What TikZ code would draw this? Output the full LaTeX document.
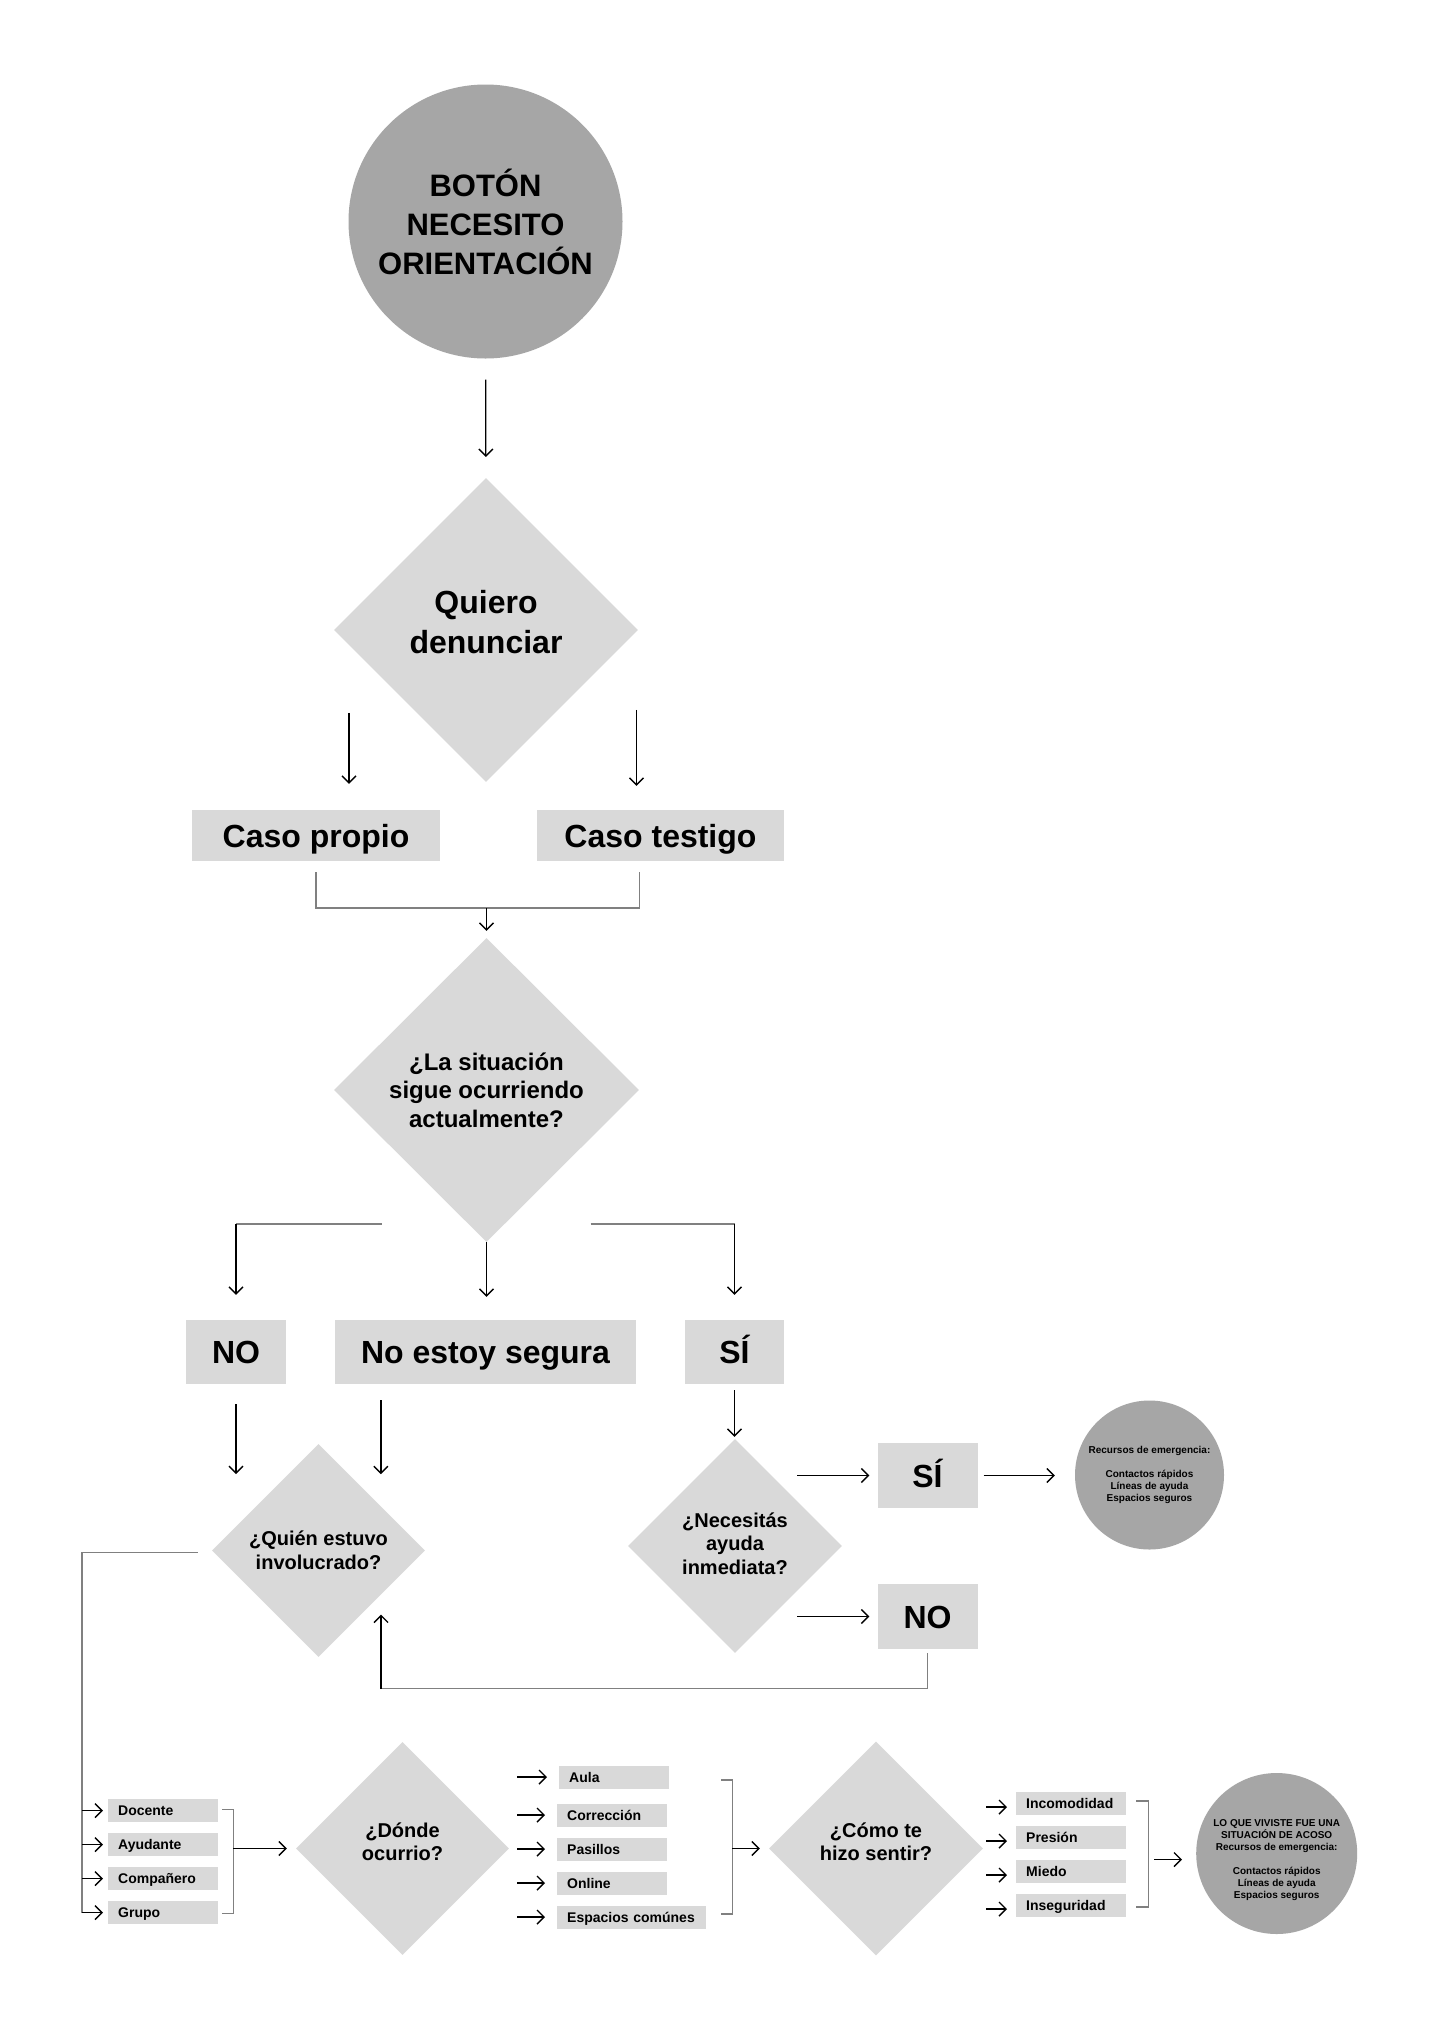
\documentclass[tikz,border=0pt]{standalone}
\usepackage{fontspec}
\setmainfont{Liberation Sans}
\usetikzlibrary{shapes.geometric,arrows.meta,calc}

\definecolor{grisoscuro}{HTML}{A6A6A6}
\definecolor{grisclaro}{HTML}{D9D9D9}
\definecolor{grislinea}{HTML}{808080}

\tikzset{
  flecha/.style={black,line width=1.4pt,-{Straight Barb[length=7pt,width=14pt]}},
  linea/.style={grislinea,line width=1.8pt},
  circulo/.style={circle,fill=grisoscuro,inner sep=0pt,align=center},
  rombo/.style={diamond,aspect=1,fill=grisclaro,inner sep=0pt,align=center},
  caja/.style={rectangle,fill=grisclaro,inner sep=0pt,text height=23pt,text depth=0pt,
    font=\fontsize{32}{40}\selectfont\bfseries},
  cajita/.style={rectangle,fill=grisclaro,anchor=west,inner xsep=10pt,inner ysep=0pt,
    minimum height=23pt,text width=90pt,align=left,text height=10pt,text depth=0pt,
    font=\fontsize{14}{16}\selectfont\bfseries},
}
% strut para subir el texto dentro de un rombo
\newcommand{\subir}[1]{\rule[-#1]{0pt}{#1}}

\begin{document}
\begin{tikzpicture}[x=1pt,y=-1pt]
\fill[white] (0,0) rectangle (1436,2027);
\useasboundingbox (0,0) rectangle (1436,2027);

% inicio
\node[circulo,minimum size=274pt,font=\fontsize{31}{39}\selectfont\bfseries] (inicio) at (485.5,221.5) {BOTÓN\\NECESITO\\ORIENTACIÓN};
\node[rombo,minimum width=304pt,minimum height=304pt,font=\fontsize{32}{40}\selectfont\bfseries] (denuncia) at (486,630) {Quiero\\denunciar\subir{16pt}};
\node[caja,minimum width=248pt,minimum height=51pt] (propio) at (316,835.5) {Caso propio};
\node[caja,minimum width=247pt,minimum height=51pt] (testigo) at (660.5,835.5) {Caso testigo};
\node[rombo,minimum width=305pt,minimum height=304pt,font=\fontsize{24}{28.5}\selectfont\bfseries] (situacion) at (486.5,1090) {¿La situación\\sigue ocurriendo\\actualmente?};

% respuestas
\node[caja,minimum width=100pt,minimum height=64pt] (no1) at (236,1352) {NO};
\node[caja,minimum width=301pt,minimum height=64pt] (nosegura) at (485.5,1352) {No estoy segura};
\node[caja,minimum width=99pt,minimum height=64pt] (si1) at (734.5,1352) {SÍ};

\node[rombo,minimum width=213pt,minimum height=213pt,font=\fontsize{20}{24}\selectfont\bfseries] (quien) at (318.5,1550.5) {¿Quién estuvo\\involucrado?};
\node[rombo,minimum width=214pt,minimum height=214pt,font=\fontsize{20}{23.5}\selectfont\bfseries] (ayuda) at (735,1546) {¿Necesitás\\ayuda\\inmediata?\subir{5pt}};
\node[caja,minimum width=100pt,minimum height=65pt] (si2) at (927.5,1475.5) {SÍ};
\node[caja,minimum width=100pt,minimum height=65pt] (no2) at (927.5,1616.5) {NO};
\node[circulo,minimum size=149pt,font=\fontsize{10}{12}\selectfont\bfseries] (emergencia) at (1149.5,1475) {Recursos de emergencia:\\[12pt]Contactos rápidos\\Líneas de ayuda\\Espacios seguros};

% fila de abajo
\node[cajita] (docente) at (108,1810.5) {Docente};
\node[cajita] (ayudante) at (108,1844.5) {Ayudante};
\node[cajita] (companero) at (108,1878.5) {Compañero};
\node[cajita] (grupo) at (108,1912.5) {Grupo};
\node[rombo,minimum width=213pt,minimum height=213pt,font=\fontsize{20}{23}\selectfont\bfseries] (donde) at (402.5,1848.5) {¿Dónde\\ocurrio?\subir{13pt}};
\node[cajita] (aula) at (559,1777) {Aula};
\node[cajita] (correccion) at (557,1815) {Corrección};
\node[cajita] (pasillos) at (557,1849) {Pasillos};
\node[cajita] (online) at (557,1883) {Online};
\node[cajita,text width=129pt] (espacios) at (557,1917) {Espacios comúnes};
\node[rombo,minimum width=214pt,minimum height=214pt,font=\fontsize{20}{23}\selectfont\bfseries] (como) at (876,1848.5) {¿Cómo te\\hizo sentir?\subir{13pt}};
\node[cajita] (incomodidad) at (1016,1803) {Incomodidad};
\node[cajita] (presion) at (1016,1837) {Presión};
\node[cajita] (miedo) at (1016,1871) {Miedo};
\node[cajita] (inseguridad) at (1016,1905) {Inseguridad};
\node[circulo,minimum size=161pt,font=\fontsize{10}{12}\selectfont\bfseries] (acoso) at (1276.7,1853.5) {\rule{0pt}{21pt}LO QUE VIVISTE FUE UNA\\SITUACIÓN DE ACOSO\\Recursos de emergencia:\\[12pt]Contactos rápidos\\Líneas de ayuda\\Espacios seguros};

% conectores de arriba
\draw[flecha,shorten <=21pt,shorten >=21pt] (inicio) -- (denuncia);
\draw[flecha] ($(propio.north)+(33,-97)$) -- ($(propio.north)+(33,-26)$);
\draw[flecha] ($(testigo.north)+(-24,-100)$) -- ($(testigo.north)+(-24,-24)$);
\draw[linea] ($(propio.south)+(0,11)$) -- ++(0,36) -| ($(testigo.south)+(-21,11)$);
\coordinate (union) at ($(propio.south)+(0,47)$);
\draw[flecha,shorten >=7pt] (union -| situacion.north) -- (situacion.north);

\coordinate (izq) at ($(situacion)+(-105,134)$);
\coordinate (der) at ($(situacion)+(104,134)$);
\draw[linea] (izq) -- (izq -| no1);
\draw[flecha,shorten >=25pt] (izq -| no1) -- (no1.north);
\draw[flecha,shorten >=23pt] (situacion.south) -- (situacion.south |- nosegura.north);
\draw[linea] (der) -- (der -| si1);
\draw[flecha,shorten >=25pt] (der -| si1) -- (si1.north);

% hacia las preguntas
\draw[flecha] ($(no1.south)+(0,20)$) -- ++(0,70);
\draw[flecha] ($(nosegura.south west)+(46,16)$) -- ++(0,74);
\draw[flecha,shorten <=6pt,shorten >=2pt] (si1.south) -- (si1.south |- ayuda.north);
\draw[flecha,shorten >=8pt] ($(si2.west)+(-80,0)$) -- (si2.west);
\draw[flecha,shorten >=8pt] ($(no2.west)+(-80,0)$) -- (no2.west);
\draw[flecha,shorten <=6pt,shorten >=20pt] (si2.east) -- (si2.east -| emergencia.west);
\coordinate (vuelta) at ($(quien.center)+(62.5,138)$);
\draw[linea] ($(no2.south)+(0,4)$) |- (vuelta);
\draw[flecha] (vuelta) -- ++(0,-74);

% quien -> lugares -> sentimientos
\coordinate (borde) at ($(quien.west)+(-130,2)$);
\draw[linea] ($(quien.west)+(-14,2)$) -- (borde) -- (borde |- grupo.west);
\foreach \p in {docente,ayudante,companero,grupo}
  \draw[flecha,shorten >=5pt] (borde |- \p.west) -- (\p.west);
\draw[linea] ($(docente.east)+(4,-1)$) -- ++(11,0) |- ($(grupo.east)+(4,1)$);
\coordinate (llave1) at ($(docente.east)+(15,0)$);
\draw[flecha,shorten >=9pt] (llave1 |- donde.west) -- (donde.west);

\foreach \p in {aula,correccion,pasillos,online,espacios}
  \draw[flecha,shorten <=8pt,shorten >=12pt] (donde.east |- \p.west) -- (\p.west);
\draw[linea] ($(aula.east)+(52,3)$) -- ++(11,0) |- ($(espacios.east)+(15,-3)$);
\coordinate (llave2) at ($(aula.east)+(63,0)$);
\draw[flecha,shorten >=9pt] (llave2 |- como.west) -- (como.west);

\foreach \p in {incomodidad,presion,miedo,inseguridad}
  \draw[flecha,shorten >=9pt] ($(\p.west)+(-30,4)$) -- ($(\p.west)+(0,4)$);
\draw[linea] ($(incomodidad.east)+(10,-2)$) -- ++(12,0) |- ($(inseguridad.east)+(10,2)$);
\coordinate (llave3) at ($(incomodidad.east)+(22,0)$);
\draw[flecha,shorten <=6pt,shorten >=14pt] ($(llave3 |- acoso.west)+(0,6)$) -- ($(acoso.west)+(0,6)$);
\end{tikzpicture}
\end{document}
